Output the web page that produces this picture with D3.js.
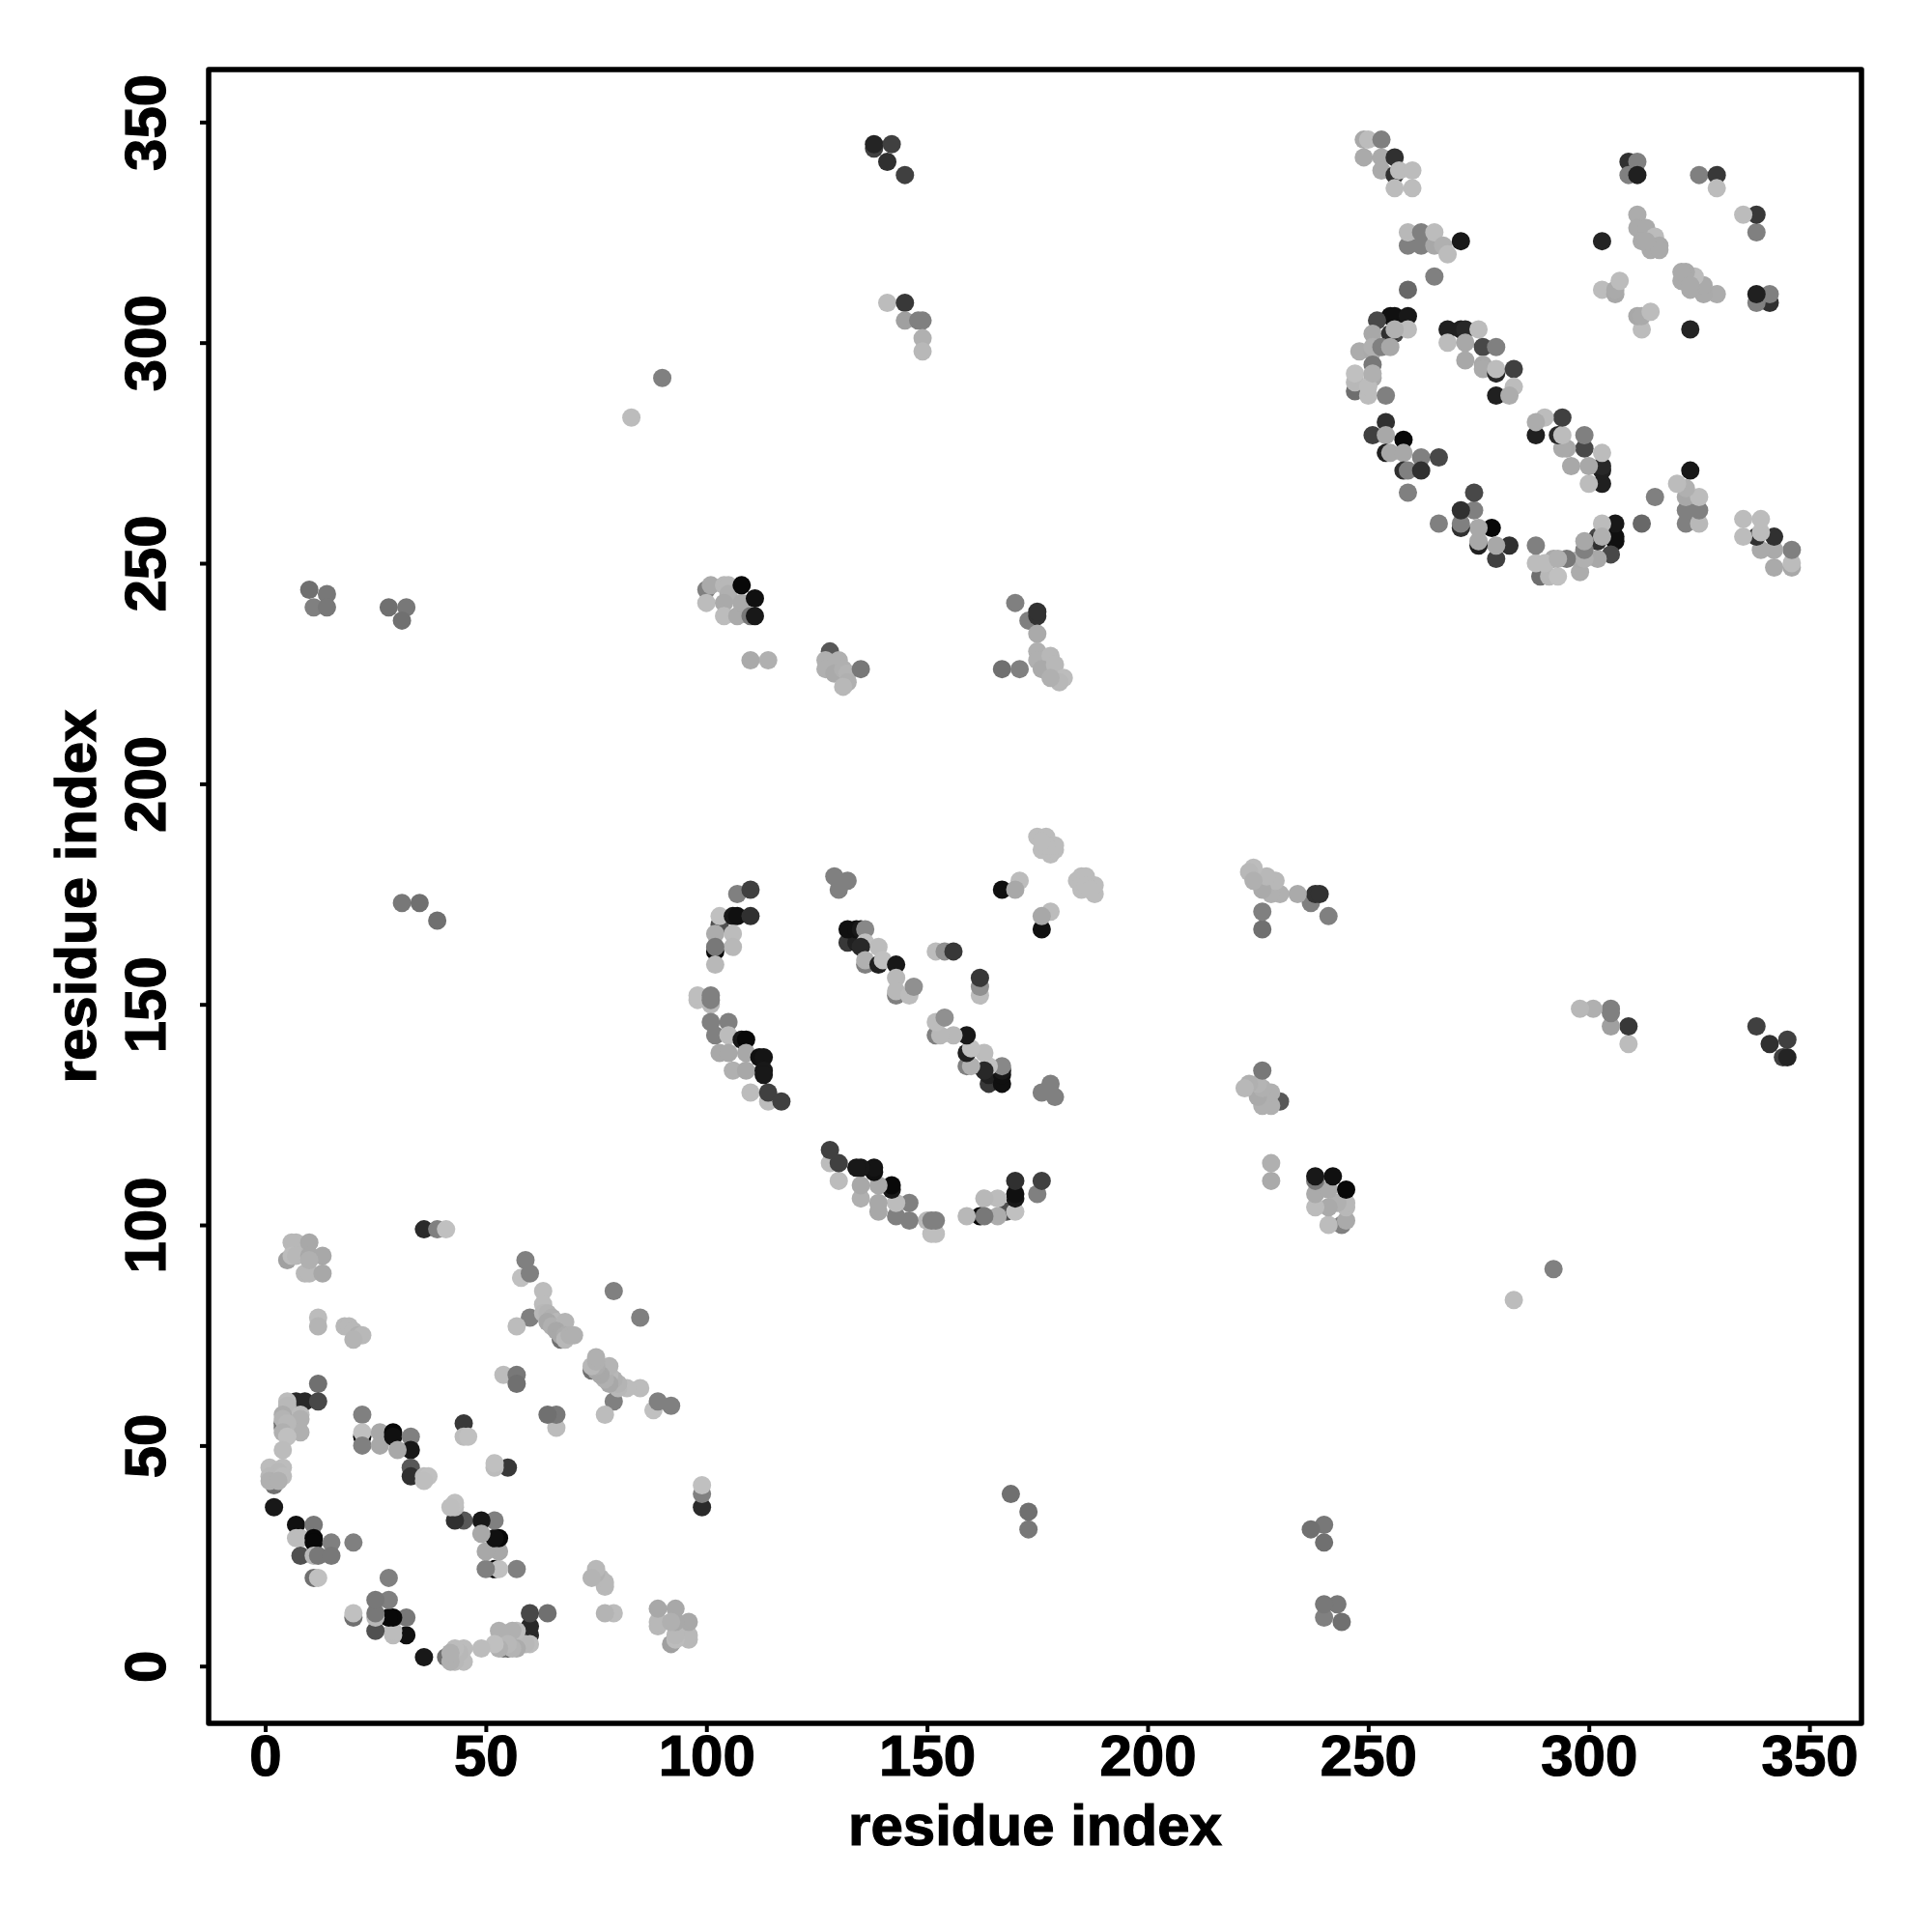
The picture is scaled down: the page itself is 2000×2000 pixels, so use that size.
<!DOCTYPE html>
<html><head><meta charset="utf-8">
<script src="https://cdnjs.cloudflare.com/ajax/libs/d3/7.8.5/d3.min.js"></script>
<style>html,body{margin:0;background:#fff}svg{display:block}</style></head>
<body><svg id="c" width="2000" height="2000"></svg>
<script>
// each contact: [residue i, residue j, shade value]; the map is symmetric, so (j,i) is drawn as well
const nTermContacts = [
[36,99,42],[39,99,128],[41,99,192],
[5,92,160],[6,96,184],[7,96,184],[10,96,168],[6,93,188],[7,93,184],[10,93,168],[13,93,168],[9,89,184],[10,89,184],[13,89,168],[10,92,176],
[12,79,188],[12,77,180],[18,77,184],[19,77,184],[20,76,184],[21,75,176],[22,75,184],[20,74,180],
[59,92,128],[58,88,192],[60,89,128],[63,85,188],[79,85,128],[60,79,128],[57,77,188],
[67,74,112],[63,82,188],[63,80,184],[64,80,180],[65,79,176],[66,78,184],[64,78,168],[65,77,176],[68,78,180],[66,76,168],[67,75,168],[68,75,172],[68,74,184],[69,75,176],[70,75,176],
[54,66,188],[57,66,120],[57,64,112],[45,55,56],[45,52,188],[46,52,192],
[12,64,112],[7,60,40],[9,60,40],[12,60,72],[5,60,188],[5,59,184],[8,57,188],[8,56,176],[8,53,176],[4,57,172],[4,55,80],[4,54,112],[4,56,180],[5,55,184],[4,53,176],[5,52,192],[4,49,188],
[2,41,112],[1,45,188],[4,45,188],[3,44,184],[1,43,184],[4,43,188],[1,42,176],[3,42,176],
[2,36,24],[7,32,16],[11,32,120],[7,29,188],[8,29,188],[11,29,8],[11,28,8],[15,28,128],[20,28,128],[8,25,80],[11,25,184],[12,25,120],[15,25,120],[11,20,112],[12,20,192],
[22,57,128],[22,52,8],[22,53,192],[22,50,128],[26,53,168],[26,50,168],[29,53,8],[29,52,16],[33,52,128],[33,49,24],[30,49,168],[33,45,88],[33,43,48],[36,43,188],[37,43,192],[36,42,190]
];
const middleContacts = [
[107,175,128],[110,176,64],[103,168,80],[103,170,192],[106,170,24],[107,170,16],[110,170,48],[102,166,172],[106,166,188],[106,163,184],[102,162,8],[102,163,120],[102,159,184],[98,151,190],[98,152,190],[101,150,184],[101,151,128],[101,152,128],[101,146,128],[105,146,128],[102,143,128],[105,143,188],[108,142,24],[109,142,8],[103,139,168],[105,139,168],[109,139,168],[112,138,16],[113,138,20],[106,135,176],[109,135,168],[113,135,24],[113,134,24],[110,130,188],[114,128,188],[114,130,64],[117,128,64],
[129,179,128],[132,178,128],[130,176,128],[132,164,56],[134,164,32],[132,167,16],[134,167,16],[135,167,24],[136,167,136],[136,164,192],[139,163,188],[135,163,40],[136,159,128],[136,160,176],[139,159,32],[140,160,192],[143,159,24],[143,156,184],[143,152,128],[143,153,184],[146,152,188],[147,154,144],[152,162,188],[154,162,144],[156,162,56],
[171,178,188],[167,176,16],[170,176,168],[175,188,188],[177,188,188],[176,185,188],[178,184,188],[179,185,188],[179,186,188],[177,186,188],[176,187,188]
];
const cTermContacts = [
[249,346,168],[250,346,188],[253,346,128],[249,342,170],[253,342,170],[256,342,48],[253,339,170],[256,338,48],[257,339,188],[260,339,188],[256,335,188],[260,335,188],
[259,322,128],[262,322,128],[265,322,168],[259,325,184],[262,325,128],[265,325,188],[267,322,176],[268,320,188],[271,323,24],[265,315,128],[259,312,104],
[255,306,16],[256,306,16],[259,306,24],[252,305,72],[251,302,168],[256,302,72],[255,302,48],[259,303,188],[256,303,176],[248,298,172],[251,298,170],[251,299,176],[253,299,128],[255,299,168],[251,295,120],[247,289,110],[247,291,184],[247,293,192],[251,292,170],[250,288,188],[250,290,188],[254,288,128],[251,293,176],
[254,282,48],[251,279,64],[254,279,168],[258,278,8],[254,275,32],[255,275,168],[258,275,168],[262,274,128],[266,274,72],[258,271,48],[259,271,128],[262,271,48],[259,266,128],
[268,303,32],[271,303,32],[272,303,40],[275,303,188],[268,300,188],[272,300,168],[272,296,168],[276,299,72],[279,299,128],[276,295,168],[276,294,170],[279,293,40],[279,294,188],[283,294,64],[283,290,188],[279,288,32],[282,288,172],
[309,341,48],[311,341,128],[309,338,128],[311,338,32],[325,338,128],[329,338,56],[329,335,188],
[311,329,172],[311,326,170],[313,326,170],[312,323,170],[315,324,188],[316,322,170],[314,321,170],[316,321,170],[313,323,170],[303,323,36],[303,312,188],[306,311,168],[306,312,170],[307,314,188]
];
const distantContacts = [
[10,244,112],[14,243,120],[11,240,128],[14,240,120],[28,240,112],[32,240,120],[31,237,112],[31,173,120],[35,173,112],[39,169,112],[83,283,188],[90,292,128],
[100,244,128],[101,245,170],[100,241,188],[104,245,184],[105,245,184],[105,243,176],[104,241,170],[104,238,188],[107,238,170],[108,241,170],[108,245,8],[111,242,16],[110,238,120],[111,238,24],
[110,228,170],[114,228,176],
[128,230,88],[127,228,176],[127,226,176],[130,228,176],[129,225,170],[131,226,176],[132,225,180],[132,223,176],[131,222,184],[135,226,120],
[170,241,128],[173,237,128],[175,238,50],[175,239,50],[175,234,170],[175,230,176],[175,228,176],[178,229,184],[176,226,170],[179,227,184],[181,224,188],[180,223,184],[178,224,176],[167,226,112],[171,226,128],
[138,344,64],[138,345,36],[142,345,64],[141,341,48],[145,338,64],
[141,309,188],[145,309,56],[145,305,160],[148,305,128],[149,305,128],[149,301,176],[149,298,184]
];
const tickValues = [0,50,100,150,200,250,300,350];
const axisTitle = "residue index";

const contacts = [...nTermContacts, ...middleContacts, ...cTermContacts, ...distantContacts];
const points = contacts.concat(contacts.map(([i,j,s]) => [j,i,s]));

const plotL=216,plotR=1927,plotT=72,plotB=1784;
const x=d3.scaleLinear().domain([-12.81,361.8]).range([plotL,plotR]);
const y=d3.scaleLinear().domain([-12.98,361.9]).range([plotB,plotT]);
const shade=d3.scaleLinear().domain([0,255]).range(["#000000","#ffffff"]);
const font='"Liberation Sans", Arial, sans-serif';
const svg=d3.select("#c");
svg.append("rect").attr("width",2000).attr("height",2000).attr("fill","#fff");

svg.append("g").selectAll("circle").data(points).join("circle")
  .attr("cx",d=>x(d[0])).attr("cy",d=>y(d[1])).attr("r",9.5).attr("fill",d=>shade(d[2]));

const gx=svg.append("g").attr("transform",`translate(0,${plotB})`)
  .call(d3.axisBottom(x).tickValues(tickValues).tickSize(9).tickSizeOuter(0).tickPadding(3));
const gy=svg.append("g").attr("transform",`translate(${plotL},0)`)
  .call(d3.axisLeft(y).tickValues(tickValues).tickSize(9).tickSizeOuter(0).tickPadding(0));
[gx,gy].forEach(g=>{
  g.select(".domain").remove();
  g.selectAll(".tick line").attr("stroke","#000").attr("stroke-width",4);
  g.selectAll("text").attr("font-family",font).attr("font-weight","bold").attr("font-size",60)
    .attr("fill","#000").attr("stroke","#000").attr("stroke-width",1.2);
});
gx.selectAll("text").attr("dy",null).attr("y",54).attr("text-anchor","middle");
gy.selectAll("text").attr("x",null).attr("dy",null)
  .attr("transform","translate(-45,0) rotate(-90)").attr("text-anchor","middle").attr("y",0);

svg.append("rect").attr("x",plotL).attr("y",plotT).attr("width",plotR-plotL).attr("height",plotB-plotT)
  .attr("fill","none").attr("stroke","#000").attr("stroke-width",5.5).attr("stroke-linejoin","round");

svg.append("text").attr("x",(plotL+plotR)/2).attr("y",1910).attr("text-anchor","middle")
  .attr("font-family",font).attr("font-weight","bold").attr("font-size",60)
  .attr("stroke","#000").attr("stroke-width",1.2).text(axisTitle);
svg.append("text").attr("transform",`translate(99,${(plotT+plotB)/2}) rotate(-90)`).attr("text-anchor","middle")
  .attr("font-family",font).attr("font-weight","bold").attr("font-size",60)
  .attr("stroke","#000").attr("stroke-width",1.2).text(axisTitle);
</script></body></html>
